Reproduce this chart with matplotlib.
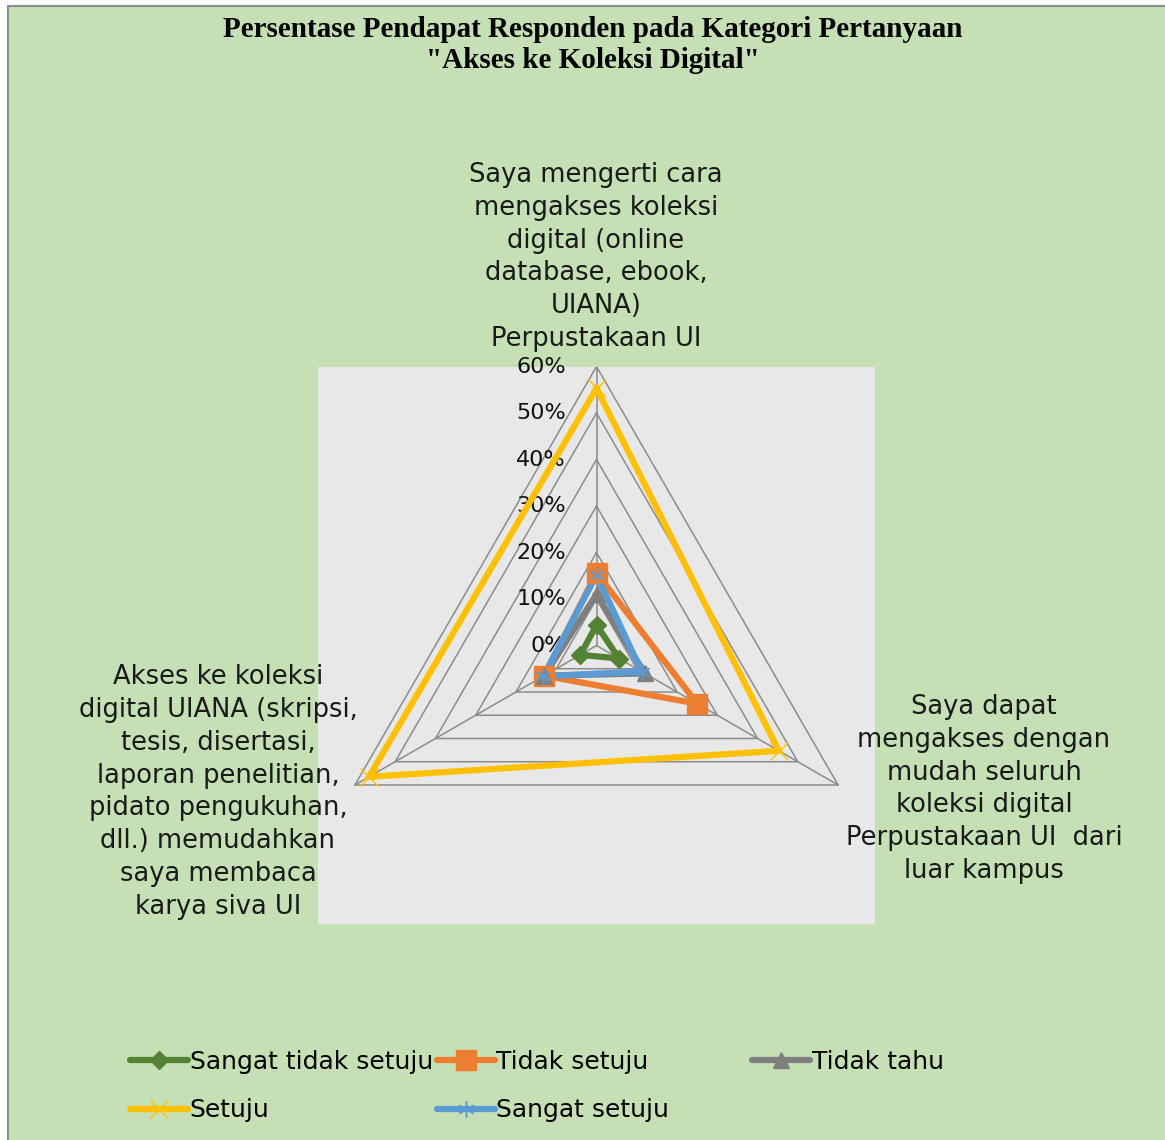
import numpy as np
import matplotlib.pyplot as plt
from matplotlib.patches import Rectangle
from matplotlib.lines import Line2D

# data
categories = [
    "Saya mengerti cara\nmengakses koleksi\ndigital (online\ndatabase, ebook,\nUIANA)\nPerpustakaan UI",
    "Saya dapat\nmengakses dengan\nmudah seluruh\nkoleksi digital\nPerpustakaan UI  dari\nluar kampus",
    "Akses ke koleksi\ndigital UIANA (skripsi,\ntesis, disertasi,\nlaporan penelitian,\npidato pengukuhan,\ndll.) memudahkan\nsaya membaca\nkarya siva UI",
]
series_names = ["Sangat tidak setuju", "Tidak setuju", "Tidak tahu", "Setuju", "Sangat setuju"]
sangat_tidak_setuju = [4.4, 5.6, 4.0]
tidak_setuju = [15.6, 25.0, 13.0]
tidak_tahu = [11.0, 12.0, 13.0]
setuju = [55.3, 45.3, 56.5]
sangat_setuju = [15.2, 11.2, 13.2]
levels = [0, 10, 20, 30, 40, 50, 60]
tick_labels = ["0%", "10%", "20%", "30%", "40%", "50%", "60%"]

colors = ["#548235", "#ED7D31", "#7F7F7F", "#FFC000", "#5B9BD5"]
markers = ["D", "s", "^", "x", (6, 2, 0)]
msizes = [9, 14, 11, 13, 12]
values = [sangat_tidak_setuju, tidak_setuju, tidak_tahu, setuju, sangat_setuju]

angles = np.deg2rad([90, -30, 210])

W, H = 1165, 1140
fig = plt.figure(figsize=(W / 100, H / 100), dpi=100, facecolor="white")
fig.patches.append(Rectangle((8 / W, -0.1), 1.2, 1.1 - 6 / H, transform=fig.transFigure,
                             facecolor="#C5E0B4", edgecolor="#8C8C8C", lw=1.5, zorder=-10))

ax = fig.add_axes([318 / W, 1 - 924 / H, 557 / W, 557 / H])
ax.set_facecolor("#E8E8E8")
ax.set_xlim(-59.9, 59.9)
ax.set_ylim(-59.9, 59.9)
for s in ax.spines.values():
    s.set_visible(False)
ax.set_xticks([])
ax.set_yticks([])

# grid
for lv in levels[1:]:
    xs = lv * np.cos(np.append(angles, angles[0]))
    ys = lv * np.sin(np.append(angles, angles[0]))
    ax.plot(xs, ys, color="#8C8C8C", lw=1.1, zorder=1)
for a in angles:
    ax.plot([0, 60 * np.cos(a)], [0, 60 * np.sin(a)], color="#8C8C8C", lw=1.1, zorder=1)

font = "DejaVu Sans"
for lv, t in zip(levels, tick_labels):
    ax.text(-6.6, lv, t, ha="right", va="center", fontsize=16, family=font, color="#111111", zorder=2)

handles = []
for name, vals, c, m, ms in zip(series_names, values, colors, markers, msizes):
    v = np.array(vals + vals[:1])
    a = np.append(angles, angles[0])
    ax.plot(v * np.cos(a), v * np.sin(a), color=c, lw=4.5, zorder=3,
            solid_joinstyle="miter")
    ax.plot(np.array(vals) * np.cos(angles), np.array(vals) * np.sin(angles), ls="none",
            marker=m, ms=ms, color=c, mec=c, mew=1, zorder=4)
    handles.append(Line2D([], [], color=c, lw=4.5, marker=m, ms=ms, mec=c, mew=1,
                          solid_capstyle="round"))

# category labels
lab_kw = dict(ha="center", va="center", fontsize=18.5, family=font, color="#1A1A1A", linespacing=1.34)
fig.text(596 / W, 1 - 257 / H, categories[0], **lab_kw)
fig.text(984 / W, 1 - 789 / H, categories[1], **lab_kw)
fig.text(218 / W, 1 - 792 / H, categories[2], **lab_kw)

fig.text(593 / W, 1 - 45 / H,
         "Persentase Pendapat Responden pada Kategori Pertanyaan\n\"Akses ke Koleksi Digital\"",
         ha="center", va="center", fontsize=21, fontweight="bold", family="Liberation Serif",
         linespacing=1.22)

# legend, one column per legend to mimic spacing
leg_kw = dict(loc="center left", frameon=False, prop={"family": font, "size": 18},
              handlelength=2.3, handletextpad=0.08, labelspacing=1.0, borderaxespad=0,
              borderpad=0)
cols = [([0, 3], 130), ([1, 4], 437), ([2], 752)]
for idx, x in cols:
    lg = fig.legend([handles[i] for i in idx], [series_names[i] for i in idx],
                    bbox_to_anchor=(x / W, 1 - (1086 if len(idx) == 2 else 1062) / H), **leg_kw)

fig.savefig("out.png", dpi=100, facecolor=fig.get_facecolor())
